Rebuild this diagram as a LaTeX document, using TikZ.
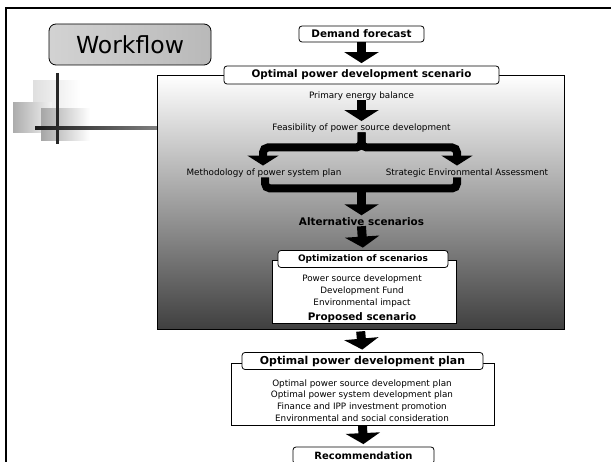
\documentclass[tikz,border=0pt]{standalone}
\usepackage{fontspec}
\setmainfont{DejaVu Sans}
\usepackage{tikz}
\usetikzlibrary{arrows.meta}
\tikzset{
    txt/.style={inner sep=0pt, font=\fontsize{8.8}{11.8}\selectfont},
    ttl/.style={inner sep=0pt, font=\bfseries\fontsize{10.4}{12}\selectfont},
    titlebox/.style={draw, fill=white, rounded corners=3pt, line width=0.8pt, inner sep=0pt, minimum height=17pt, font=\bfseries\fontsize{10.4}{12}\selectfont},
    panel/.style={draw, line width=0.8pt, inner sep=0pt},
    blockarrow/.style={line width=9pt, -{Triangle[width=34pt,length=11pt]}, shorten >=2.5pt},
    splitarrow/.style={line width=8pt, rounded corners=5pt, -{Triangle[width=31pt,length=10pt]}, shorten >=3pt},
    barline/.style={line width=8pt, rounded corners=5pt}
}

\begin{document}
\begin{tikzpicture}[x=1pt, y=-1pt]
    \useasboundingbox (0,0) rectangle (611,462);
    \draw [line width=2.5pt] (6,470) -- (6,8) -- (620,8);

    \node[draw, rounded corners=7pt, line width=0.8pt, left color=gray!35, middle color=white, right color=gray!55,
        minimum width=162pt, minimum height=41pt, font=\fontsize{23.5}{26}\selectfont] (wf) at (130,44.5) {Workflow};

    \shade [left color=gray!25, right color=white] (33,81) rectangle (80,110);
    \shade [left color=gray!65, right color=gray!10] (13,103) rectangle (52,133);
    \shade [left color=gray!70, right color=white] (41,109) rectangle (90,141);
    \draw [line width=2.5pt, black!85] (57.5,73) -- (57.5,144);
    \shade [left color=black!90, right color=gray] (35,126.7) rectangle (157,129.5);

    \node[panel, top color=white, bottom color=black!75, minimum width=407pt, minimum height=254pt] (scenpanel) at (360.5,202) {};
    \node[titlebox, minimum width=125pt, minimum height=16pt] (demand) at (361.5,34) {Demand forecast};
    \node[titlebox, minimum width=275pt, minimum height=18pt] (scentitle) at (361.5,75) {Optimal power development scenario};
    \node[txt] (prim) at (361.5,96) {Primary energy balance};
    \node[txt] (feas) at (361.5,128) {Feasibility of power source development};
    \node[txt] (meth) at (264,173) {Methodology of power system plan};
    \node[txt] (sea) at (467,173) {Strategic Environmental Assessment};
    \coordinate (merge) at (361.5,188);
    \node[ttl] (alt) at (361.5,222) {Alternative scenarios};

    \node[panel, fill=white, minimum width=184pt, minimum height=63pt] (optpanel) at (364,291.5) {};
    \node[titlebox, minimum width=170pt, font=\bfseries\fontsize{9}{11}\selectfont] (opttitle) at (363,259) {Optimization of scenarios};
    \node[txt, align=center, font=\fontsize{8.8}{12}\selectfont] (optbody) at (362,291) {Power source development\\Development Fund\\Environmental impact};
    \node[ttl] (proposed) at (362,318) {Proposed scenario};

    \node[panel, fill=white, minimum width=263pt, minimum height=62pt] (planpanel) at (362.5,394) {};
    \node[titlebox, minimum width=241pt, font=\bfseries\fontsize{10.9}{12}\selectfont] (plantitle) at (362.5,361) {Optimal power development plan};
    \node[txt, align=center, font=\fontsize{8.8}{11.7}\selectfont] (planbody) at (362,400.5) {Optimal power source development plan\\Optimal power system development plan\\Finance and IPP investment promotion\\Environmental and social consideration};
    \node[titlebox, minimum width=141pt, minimum height=17pt, font=\bfseries\fontsize{10}{12}\selectfont] (recom) at (363.5,455.5) {Recommendation};

    \draw [blockarrow] (demand.south) -- (scentitle.north);
    \draw [blockarrow] (prim.south) -- (feas.north);
    \draw [splitarrow] (feas.south) -- ++(0,15) -| ([xshift=-1pt]meth.north);
    \draw [splitarrow] (feas.south) -- ++(0,15) -| ([xshift=-10pt]sea.north);
    \draw [barline] ([xshift=1pt]meth.south) -- ++(0,11) -| ([xshift=-10pt]sea.south);
    \draw [blockarrow] (merge) -- (alt.north);
    \draw [blockarrow] (alt.south) -- (opttitle.north);
    \draw [blockarrow, shorten <=2pt] (scenpanel.south) -- (plantitle.north);
    \draw [blockarrow] (planpanel.south) -- (recom.north);
\end{tikzpicture}
\end{document}
